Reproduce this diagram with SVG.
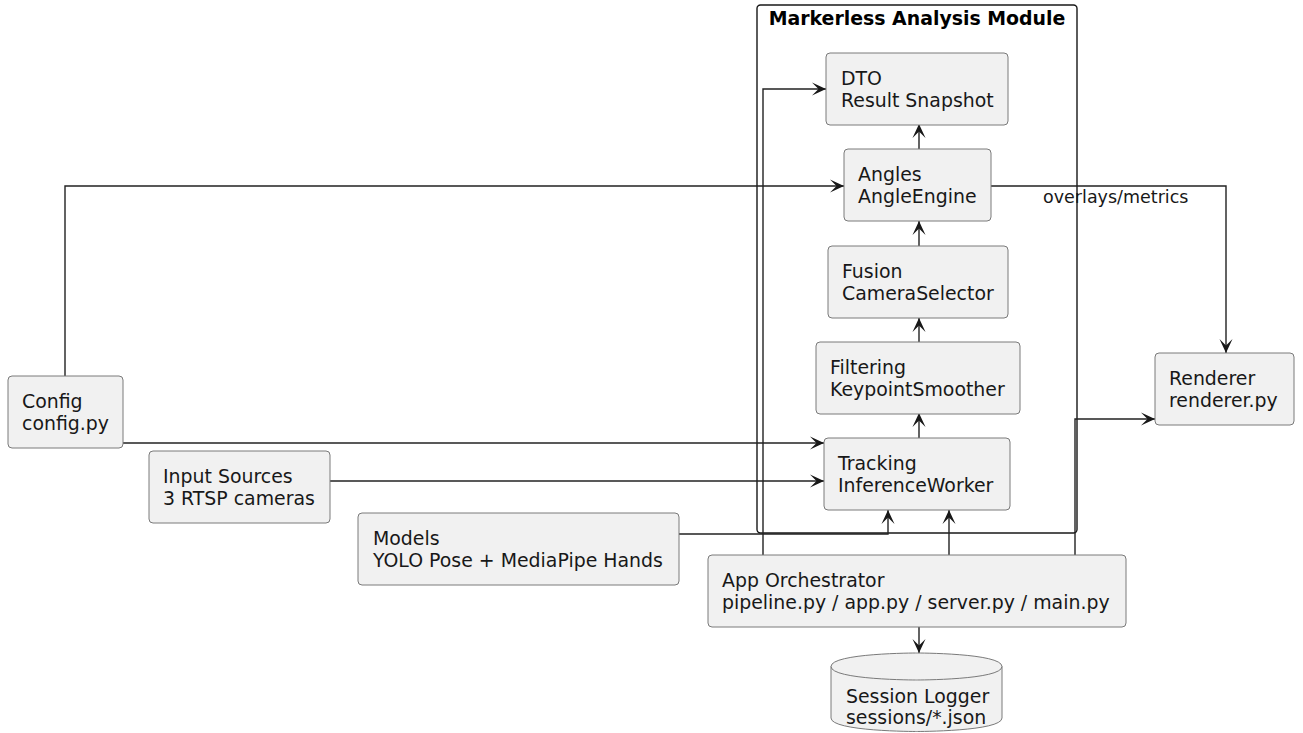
<svg xmlns="http://www.w3.org/2000/svg" width="1303" height="733" viewBox="0 0 1303 733">
<defs>
<marker id="arr" markerUnits="userSpaceOnUse" markerWidth="18" markerHeight="18" viewBox="-16 -9 18 18" refX="0" refY="0" orient="auto">
<path d="M0,0 L-14,-6.5 L-7.5,0 L-14,6.5 Z" fill="#181818"/>
</marker>
</defs>
<style>
.node{fill:#F1F1F1;stroke:#7a7a7a;stroke-width:1}
.t{font-family:"DejaVu Sans",Verdana,sans-serif;font-size:18.9px;fill:#181818}
.lbl{font-family:"DejaVu Sans",Verdana,sans-serif;font-size:17.5px;fill:#181818}
.title{font-family:"DejaVu Sans",Verdana,sans-serif;font-size:18.9px;font-weight:bold;fill:#000}
.c{fill:none;stroke:#222;stroke-width:1.4}
.ca{fill:none;stroke:#222;stroke-width:1.4;marker-end:url(#arr)}
</style>
<rect width="1303" height="733" fill="#FFFFFF"/>
<g id="module">
<rect x="757" y="5" width="320" height="528" rx="3.5" fill="none" stroke="#181818" stroke-width="1.4"/>
<text class="title" x="917" y="25" text-anchor="middle">Markerless Analysis Module</text>
</g>
<g id="connectors">
<path class="ca" d="M65,376 L65,186 L844,186"/>
<path class="ca" d="M123,443 L824,443"/>
<path class="ca" d="M330,481 L824,481"/>
<path class="ca" d="M679,534 L888,534 L888,510"/>
<path class="ca" d="M949,555 L949,510"/>
<path class="ca" d="M763,555 L763,89 L826,89"/>
<path class="ca" d="M1075,555 L1075,419 L1155,419"/>
<path class="ca" d="M991,186 L1226,186 L1226,353"/>
<text class="lbl" x="1043" y="203">overlays/metrics</text>
<path class="ca" d="M919,438 L919,413"/>
<path class="ca" d="M919,342 L919,318"/>
<path class="ca" d="M919,246 L919,221"/>
<path class="ca" d="M919,149 L919,124"/>
<path class="ca" d="M919,627 L919,653"/>
</g>
<g id="dto">
<rect class="node" x="826" y="53" width="182" height="72" rx="4"/>
<text class="t" x="841" y="84.5">DTO</text>
<text class="t" x="841" y="106.5">Result Snapshot</text>
</g>
<g id="angles">
<rect class="node" x="844" y="149" width="147" height="72" rx="4"/>
<text class="t" x="858" y="180.5">Angles</text>
<text class="t" x="858" y="202.5">AngleEngine</text>
</g>
<g id="fusion">
<rect class="node" x="828" y="246" width="180" height="72" rx="4"/>
<text class="t" x="842" y="277.5">Fusion</text>
<text class="t" x="842" y="299.5">CameraSelector</text>
</g>
<g id="filtering">
<rect class="node" x="816" y="342" width="204" height="72" rx="4"/>
<text class="t" x="830" y="373.5">Filtering</text>
<text class="t" x="830" y="395.5">KeypointSmoother</text>
</g>
<g id="tracking">
<rect class="node" x="824" y="438" width="186" height="72" rx="4"/>
<text class="t" x="838" y="469.5">Tracking</text>
<text class="t" x="838" y="491.5">InferenceWorker</text>
</g>
<g id="renderer">
<rect class="node" x="1155" y="353" width="139" height="72" rx="4"/>
<text class="t" x="1169" y="384.5">Renderer</text>
<text class="t" x="1169" y="406.5">renderer.py</text>
</g>
<g id="config">
<rect class="node" x="8" y="376" width="115" height="72" rx="4"/>
<text class="t" x="22" y="407.5">Config</text>
<text class="t" x="22" y="429.5">config.py</text>
</g>
<g id="input">
<rect class="node" x="149" y="451" width="181" height="72" rx="4"/>
<text class="t" x="163" y="482.5">Input Sources</text>
<text class="t" x="163" y="504.5">3 RTSP cameras</text>
</g>
<g id="models">
<rect class="node" x="358" y="513" width="321" height="72" rx="4"/>
<text class="t" x="373" y="544.5">Models</text>
<text class="t" x="373" y="566.5">YOLO Pose + MediaPipe Hands</text>
</g>
<g id="app">
<rect class="node" x="708" y="555" width="418" height="72" rx="4"/>
<text class="t" x="722" y="586.5">App Orchestrator</text>
<text class="t" x="722" y="608.5">pipeline.py / app.py / server.py / main.py</text>
</g>
<g id="session">
<path class="node" d="M831,666.5 C831,653 916.5,653 916.5,653 C916.5,653 1002,653 1002,666.5 L1002,718 C1002,731.5 916.5,731.5 916.5,731.5 C916.5,731.5 831,731.5 831,718 Z"/>
<path d="M831,666.5 C831,680 916.5,680 916.5,680 C916.5,680 1002,680 1002,666.5" fill="none" stroke="#7a7a7a" stroke-width="1"/>
<text class="t" x="846" y="703">Session Logger</text>
<text class="t" x="846" y="724">sessions/*.json</text>
</g>
</svg>
